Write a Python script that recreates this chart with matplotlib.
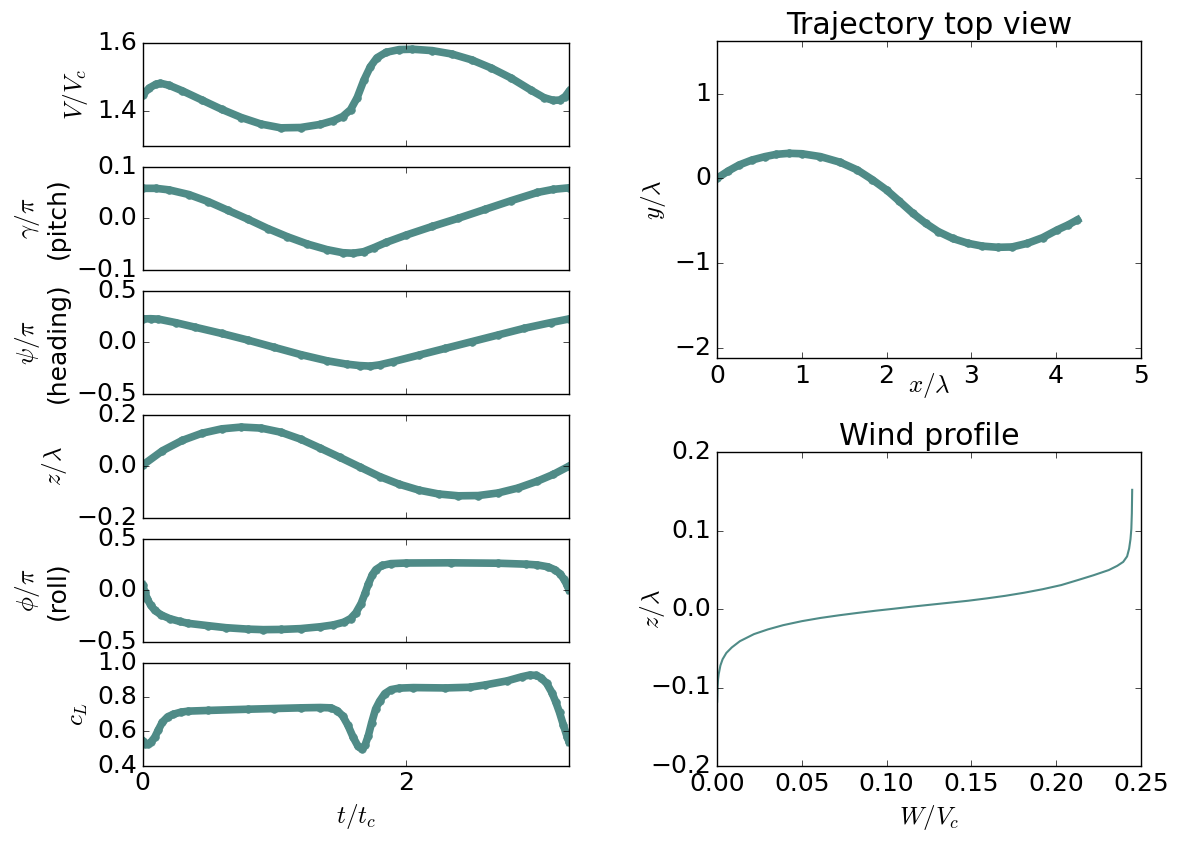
import matplotlib
matplotlib.use('Agg')
import matplotlib.pyplot as plt
import numpy as np

plt.style.use('classic')
plt.rcParams['font.size'] = 18
plt.rcParams['mathtext.fontset'] = 'cm'

col = '#4f8b87'
T = 3.24

# speed V/Vc
t_V = [0, 0.05, 0.10, 0.134, 0.2, 0.3, 0.45, 0.6, 0.75, 0.9, 1.05, 1.2, 1.35, 1.45, 1.52, 1.58, 1.63, 1.68,
       1.73, 1.78, 1.85, 1.95, 2.05, 2.2, 2.35, 2.5, 2.65, 2.8, 2.95, 3.05, 3.12, 3.17, 3.21, 3.24]
V = [1.448, 1.468, 1.479, 1.482, 1.476, 1.460, 1.433, 1.406, 1.382, 1.363, 1.352, 1.353, 1.362, 1.373, 1.385,
     1.405, 1.440, 1.490, 1.530, 1.556, 1.572, 1.580, 1.581, 1.577, 1.567, 1.550, 1.526, 1.497, 1.462, 1.440,
     1.432, 1.433, 1.443, 1.458]

# pitch gamma/pi
t_g = [0, 0.1, 0.2, 0.35, 0.5, 0.65, 0.8, 0.95, 1.1, 1.25, 1.4, 1.52, 1.6, 1.68, 1.76, 1.85, 2.0, 2.2, 2.4,
       2.6, 2.8, 3.0, 3.12, 3.24]
gam = [0.058, 0.058, 0.055, 0.046, 0.032, 0.015, -0.002, -0.020, -0.036, -0.050, -0.061, -0.067, -0.068,
       -0.065, -0.057, -0.047, -0.033, -0.016, 0.000, 0.017, 0.034, 0.050, 0.056, 0.059]

# heading psi/pi
t_p = [0, 0.06, 0.12, 0.25, 0.4, 0.6, 0.8, 1.0, 1.2, 1.4, 1.55, 1.65, 1.73, 1.8, 1.9, 2.1, 2.3, 2.5, 2.7,
       2.9, 3.1, 3.24]
psi = [0.226, 0.228, 0.224, 0.19, 0.145, 0.085, 0.02, -0.05, -0.12, -0.18, -0.213, -0.227, -0.232, -0.22,
       -0.19, -0.125, -0.06, 0.005, 0.07, 0.135, 0.19, 0.226]

# altitude z/lambda
t_z = [0, 0.15, 0.3, 0.45, 0.6, 0.75, 0.9, 1.05, 1.2, 1.35, 1.5, 1.65, 1.8, 1.95, 2.1, 2.25, 2.4, 2.55,
       2.7, 2.85, 3.0, 3.12, 3.24]
z = [0.004, 0.06, 0.10, 0.128, 0.145, 0.152, 0.148, 0.132, 0.105, 0.07, 0.034, -0.003, -0.04, -0.07, -0.093,
     -0.108, -0.115, -0.114, -0.104, -0.085, -0.058, -0.032, 0.0]

# roll phi/pi
t_r = [0, 0.017, 0.034, 0.06, 0.091, 0.14, 0.205, 0.28, 0.348, 0.5, 0.632, 0.8, 0.917, 1.05, 1.2, 1.35,
       1.45, 1.53, 1.58, 1.62, 1.66, 1.69, 1.715, 1.745, 1.772, 1.82, 1.886, 2.0, 2.34, 2.7, 2.91, 3.0, 3.08,
       3.13, 3.17, 3.2, 3.225, 3.24]
phi = [0.049, -0.02, -0.081, -0.145, -0.195, -0.24, -0.276, -0.303, -0.322, -0.345, -0.364, -0.378, -0.383,
       -0.381, -0.373, -0.355, -0.337, -0.31, -0.275, -0.22, -0.13, -0.03, 0.06, 0.15, 0.20, 0.24, 0.258,
       0.264, 0.266, 0.262, 0.253, 0.245, 0.227, 0.20, 0.162, 0.11, 0.05, 0.005]

# lift coefficient
t_c = [0, 0.02, 0.04, 0.065, 0.091, 0.12, 0.148, 0.19, 0.234, 0.29, 0.348, 0.5, 0.8, 1.0, 1.2, 1.35, 1.43,
       1.48, 1.52, 1.56, 1.60, 1.635, 1.664, 1.69, 1.715, 1.74, 1.77, 1.80, 1.84, 1.886, 1.95, 2.057, 2.3,
       2.484, 2.6, 2.769, 2.88, 2.94, 2.99, 3.026, 3.07, 3.11, 3.14, 3.168, 3.196, 3.225, 3.24]
cL = [0.545, 0.528, 0.527, 0.54, 0.565, 0.61, 0.652, 0.685, 0.70, 0.712, 0.718, 0.722, 0.729, 0.733, 0.737,
      0.739, 0.737, 0.72, 0.69, 0.635, 0.565, 0.515, 0.497, 0.52, 0.575, 0.65, 0.73, 0.775, 0.82, 0.843,
      0.852, 0.855, 0.853, 0.857, 0.87, 0.894, 0.918, 0.928, 0.926, 0.913, 0.88, 0.826, 0.77, 0.71, 0.64,
      0.57, 0.54]

# trajectory top view
traj_x = [0, 0.13, 0.26, 0.41, 0.566, 0.7, 0.85, 1.0, 1.22, 1.45, 1.655, 1.83, 2.0, 2.15, 2.31, 2.46, 2.61,
          2.78, 2.96, 3.13, 3.31, 3.48, 3.66, 3.84, 4.01, 4.14, 4.25]
traj_y = [0, 0.085, 0.157, 0.215, 0.256, 0.283, 0.295, 0.29, 0.256, 0.19, 0.098, -0.015, -0.138, -0.27,
          -0.413, -0.53, -0.629, -0.71, -0.767, -0.80, -0.814, -0.81, -0.767, -0.70, -0.61, -0.55, -0.49]

# wind profile
wind_W = [0.0001, 0.0003, 0.0006, 0.001, 0.002, 0.0033, 0.0055, 0.0087, 0.0135, 0.0218, 0.03, 0.039, 0.05,
          0.061, 0.072, 0.0828, 0.0935, 0.1045, 0.115, 0.126, 0.137, 0.148, 0.159, 0.170, 0.181, 0.192, 0.203,
          0.213, 0.222, 0.231, 0.236, 0.2395, 0.2418, 0.243, 0.2438, 0.2443, 0.2446, 0.2448]
wind_z = [-0.118, -0.10, -0.09, -0.083, -0.072, -0.064, -0.056, -0.049, -0.041, -0.032, -0.026, -0.0206,
          -0.0155, -0.0114, -0.008, -0.005, -0.0022, 0.0004, 0.003, 0.0055, 0.008, 0.0105, 0.0135, 0.0168,
          0.0207, 0.0252, 0.0305, 0.037, 0.043, 0.0496, 0.055, 0.060, 0.067, 0.077, 0.089, 0.102, 0.122,
          0.1518]

panels = [
    (t_V, V, r'$V/V_c$', (1.3, 1.6), [1.4, 1.6]),
    (t_g, gam, '$\\gamma/\\pi$\n(pitch)', (-0.1, 0.1), [-0.1, 0.0, 0.1]),
    (t_p, psi, '$\\psi/\\pi$\n(heading)', (-0.5, 0.5), [-0.5, 0.0, 0.5]),
    (t_z, z, r'$z/\lambda$', (-0.2, 0.2), [-0.2, 0.0, 0.2]),
    (t_r, phi, '$\\phi/\\pi$\n(roll)', (-0.5, 0.5), [-0.5, 0.0, 0.5]),
    (t_c, cL, r'$c_L$', (0.4, 1.0), [0.4, 0.6, 0.8, 1.0]),
]

W, H = 1177., 842.
fig = plt.figure(figsize=(W / 100, H / 100), dpi=100)

x0, x1 = 142.7, 569.
top, h, g = 42.7, 103., 21.
for i, (tt, yy, lab, lim, ticks) in enumerate(panels):
    ytop = top + i * (h + g)
    ax = fig.add_axes([x0 / W, 1 - (ytop + h) / H, (x1 - x0) / W, h / H])
    ax.plot(tt, yy, '-o', color=col, lw=5.5, ms=5.5, mec=col, mew=0.5)
    ax.set_xlim(0, T)
    ax.set_ylim(*lim)
    ax.set_yticks(ticks)
    ax.set_xticks([0, 2])
    ax.set_ylabel(lab)
    if i < 5:
        ax.set_xticklabels([])
    else:
        ax.set_xlabel(r'$t/t_c$')

# trajectory
ax = fig.add_axes([717 / W, 1 - 358 / H, (1141 - 717) / W, (358 - 41) / H])
ax.plot(traj_x, traj_y, '-o', color=col, lw=5.5, ms=5.5, mec=col, mew=0.5)
ax.set_xlim(0, 5)
ax.set_ylim(-2.12, 1.62)
ax.set_xticks([0, 1, 2, 3, 4, 5])
ax.set_yticks([-2, -1, 0, 1])
ax.set_xlabel(r'$x/\lambda$', labelpad=-12)
ax.set_ylabel(r'$y/\lambda$')
ax.set_title('Trajectory top view')

# wind
ax = fig.add_axes([717 / W, 1 - 766 / H, (1141 - 717) / W, (766 - 452) / H])
ax.plot(wind_W, wind_z, '-', color=col, lw=1.5)
ax.set_xlim(0, 0.25)
ax.set_ylim(-0.2, 0.2)
ax.set_xticks([0, 0.05, 0.10, 0.15, 0.20, 0.25])
ax.set_yticks([-0.2, -0.1, 0.0, 0.1, 0.2])
ax.set_xlabel(r'$W/V_c$')
ax.set_ylabel(r'$z/\lambda$', labelpad=-12)
ax.set_title('Wind profile')

fig.savefig('out.png', dpi=100, facecolor='white')
